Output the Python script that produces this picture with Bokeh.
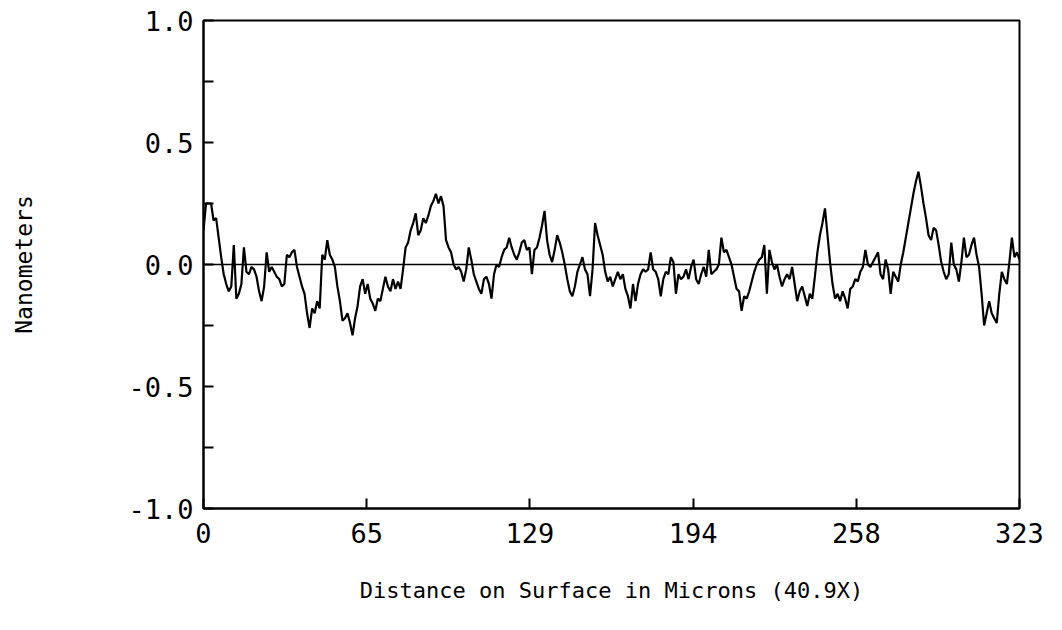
import numpy as np
from bokeh.plotting import figure
from bokeh.models import (Range1d, FixedTicker, Span, ColumnDataSource,
                          CustomJSTickFormatter, PrintfTickFormatter)
from bokeh.embed import file_html
from bokeh.resources import INLINE

SAMPLE_STEP_UM = 1.0

seg_000_041 = [0.14, 0.25, 0.25, 0.25, 0.18, 0.19, 0.11, 0.03, -0.04, -0.08,
               -0.11, -0.09, 0.08, -0.14, -0.12, -0.08, 0.07, -0.03, -0.04, -0.01,
               -0.02, -0.05, -0.11, -0.15, -0.09, 0.05, -0.03, -0.01, -0.03, -0.05,
               -0.06, -0.09, -0.08, 0.04, 0.03, 0.05, 0.06, -0.01, -0.05, -0.09,
               -0.12, -0.20]
seg_042_082 = [-0.26, -0.18, -0.20, -0.15, -0.18, 0.04, 0.02, 0.10, 0.04, 0.02,
               -0.01, -0.09, -0.15, -0.23, -0.22, -0.20, -0.24, -0.29, -0.22, -0.17,
               -0.09, -0.06, -0.12, -0.08, -0.14, -0.16, -0.19, -0.14, -0.15, -0.10,
               -0.05, -0.09, -0.11, -0.06, -0.10, -0.07, -0.10, -0.02, 0.07, 0.09,
               0.14]
seg_083_123 = [0.17, 0.21, 0.12, 0.14, 0.19, 0.17, 0.20, 0.24, 0.26, 0.29,
               0.25, 0.28, 0.24, 0.10, 0.07, 0.05, 0.00, -0.02, -0.01, -0.03,
               -0.07, -0.02, 0.07, 0.02, -0.04, -0.07, -0.10, -0.12, -0.06, -0.05,
               -0.08, -0.14, -0.04, 0.00, -0.01, 0.03, 0.06, 0.07, 0.11, 0.07,
               0.04]
seg_124_164 = [0.02, 0.05, 0.09, 0.10, 0.06, 0.07, -0.04, 0.06, 0.07, 0.11,
               0.16, 0.22, 0.10, 0.04, 0.01, 0.06, 0.12, 0.09, 0.05, 0.00,
               -0.06, -0.11, -0.13, -0.09, -0.03, 0.00, 0.03, -0.02, -0.04, -0.13,
               -0.02, 0.17, 0.12, 0.08, 0.04, -0.03, -0.07, -0.05, -0.09, -0.06,
               -0.03]
seg_165_206 = [-0.06, -0.04, -0.10, -0.13, -0.18, -0.08, -0.15, -0.08, -0.04, -0.02,
               -0.03, -0.02, 0.05, -0.02, -0.03, -0.06, -0.13, -0.06, -0.03, -0.04,
               0.03, 0.01, -0.12, -0.04, -0.06, -0.05, -0.02, -0.06, -0.01, 0.02,
               -0.06, -0.08, -0.04, -0.01, -0.05, 0.06, -0.04, -0.03, -0.02, 0.00,
               0.11, 0.05]
seg_207_248 = [0.06, 0.03, 0.00, -0.05, -0.10, -0.11, -0.19, -0.13, -0.14, -0.11,
               -0.07, -0.03, 0.00, 0.02, 0.03, 0.08, -0.12, 0.06, 0.01, -0.02,
               0.00, -0.05, -0.09, -0.06, -0.04, -0.06, -0.01, -0.08, -0.15, -0.11,
               -0.09, -0.13, -0.17, -0.12, -0.14, -0.05, 0.05, 0.12, 0.17, 0.23,
               0.12, 0.01]
seg_249_289 = [-0.08, -0.14, -0.12, -0.15, -0.11, -0.14, -0.18, -0.10, -0.09, -0.06,
               -0.07, -0.03, -0.01, 0.06, 0.00, -0.01, 0.01, 0.03, 0.05, -0.04,
               -0.06, 0.02, -0.02, -0.12, -0.03, -0.05, -0.07, 0.00, 0.05, 0.11,
               0.17, 0.23, 0.29, 0.34, 0.38, 0.32, 0.25, 0.19, 0.12, 0.10,
               0.15]
seg_290_323 = [0.14, 0.08, 0.01, -0.03, -0.06, -0.04, 0.09, 0.00, -0.02, -0.07,
               0.01, 0.11, 0.03, 0.04, 0.08, 0.11, 0.04, -0.01, -0.12, -0.25,
               -0.20, -0.15, -0.20, -0.22, -0.24, -0.12, -0.03, -0.06, -0.08, 0.01,
               0.11, 0.03, 0.05, 0.02]

depth_nm = (seg_000_041 + seg_042_082 + seg_083_123 + seg_124_164 +
            seg_165_206 + seg_207_248 + seg_249_289 + seg_290_323)
distance_um = np.arange(len(depth_nm)) * SAMPLE_STEP_UM

x_ticks = [0, 64.6, 129.2, 193.8, 258.4, 323]
y_major_ticks = [-1.0, -0.5, 0.0, 0.5, 1.0]
y_minor_ticks = [-0.75, -0.25, 0.25, 0.75]

x_title = "Distance on Surface in Microns (40.9X)"
y_title = "Nanometers"

FONT = "DejaVu Sans Mono"

p = figure(width=1046, height=614,
           x_range=Range1d(0, 323), y_range=Range1d(-1, 1),
           output_backend="svg", toolbar_location=None,
           min_border_left=203, min_border_right=27,
           min_border_top=20, min_border_bottom=106,
           background_fill_color="white", border_fill_color="white")

p.grid.visible = False
p.outline_line_color = "black"
p.outline_line_width = 2
p.outline_line_alpha = 1.0

src = ColumnDataSource(data=dict(x=distance_um, y=depth_nm))
p.line("x", "y", source=src, line_color="black", line_width=2.2)

p.add_layout(Span(location=0, dimension="width", line_color="black", line_width=1.5))

# x axis
p.xaxis.ticker = FixedTicker(ticks=x_ticks)
p.xaxis.formatter = CustomJSTickFormatter(code="return Math.round(tick).toString();")
p.xaxis.major_tick_in = 10
p.xaxis.major_tick_out = 0
p.xaxis.major_tick_line_width = 2
p.xaxis.minor_tick_line_color = None
p.xaxis.axis_line_width = 2
p.xaxis.major_label_text_font = FONT
p.xaxis.major_label_text_font_size = "27px"
p.xaxis.major_label_text_color = "black"
p.xaxis.major_label_standoff = 14
p.xaxis.axis_label = x_title
p.xaxis.axis_label_text_font = FONT
p.xaxis.axis_label_text_font_size = "22px"
p.xaxis.axis_label_text_font_style = "normal"
p.xaxis.axis_label_text_color = "black"
p.xaxis.axis_label_standoff = 32

# y axis
p.yaxis.ticker = FixedTicker(ticks=y_major_ticks, minor_ticks=y_minor_ticks)
p.yaxis.formatter = PrintfTickFormatter(format="%.1f")
p.yaxis.major_tick_in = 10
p.yaxis.major_tick_out = 0
p.yaxis.minor_tick_in = 10
p.yaxis.minor_tick_out = 0
p.yaxis.major_tick_line_width = 2
p.yaxis.minor_tick_line_width = 2
p.yaxis.axis_line_width = 2
p.yaxis.major_label_text_font = FONT
p.yaxis.major_label_text_font_size = "27px"
p.yaxis.major_label_text_color = "black"
p.yaxis.major_label_standoff = 10
p.yaxis.axis_label = y_title
p.yaxis.axis_label_text_font = FONT
p.yaxis.axis_label_text_font_size = "23px"
p.yaxis.axis_label_text_font_style = "normal"
p.yaxis.axis_label_text_color = "black"
p.yaxis.axis_label_standoff = 88

open("out.html", "w").write(file_html(p, INLINE))
